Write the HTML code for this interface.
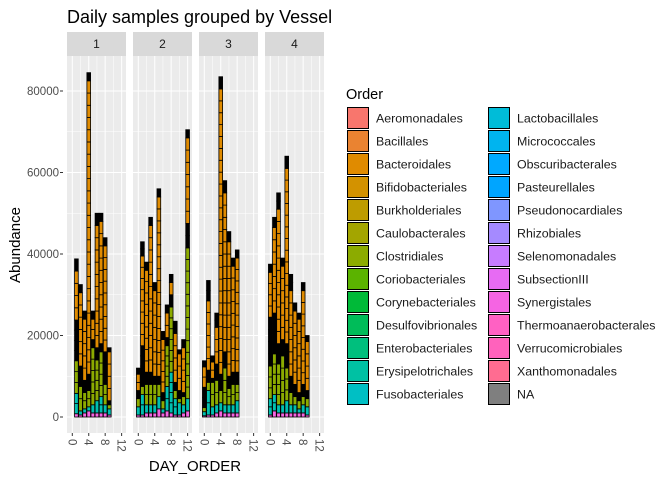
<!DOCTYPE html>
<html><head><meta charset="utf-8"><style>
body{margin:0;background:#fff;}
svg{display:block;font-family:"Liberation Sans",sans-serif;}
</style></head><body>
<svg id="chart" width="672" height="480" viewBox="0 0 672 480"></svg>
<script>
// data (thousands) layers per bar: pink, teal, green, dark, orange, darkTop
const panelLabels = ["1","2","3","4"];
const panelStartDay = [1,0,0,0];
const pinkVals = [
 [0.8,0.5,1,1.5,1,1,1,1,0.5],
 [0.5,0.5,1,1,1,2,1,1.5,1,0.5,0.5,1,1.5],
 [0.3,0.5,0.5,1,1.5,1,1,1,1],
 [0.5,1.5,1,1,1,1,1,1,1,0.5]];
const tealVals = [
 [5,1,1,1,2,3,4,2,1.5],
 [2,5,2,2,2,3,1,6,10,4,3,2,3],
 [1,6,2,2,2,2,2,2,3],
 [4,4,2,2,3,2,2,1,2,2]];
const greenVals = [
 [8,6,4,4,14,10,11,5,1],
 [2,2,5,5,5,3,2,10,16,2,1,2,37],
 [1,2,6,6,3,9,4,5,4],
 [8,10,10,12,8,3,2,2,2,2]];
const darkVals = [
 [10,5,3,4,2,3,2,8,1],
 [2,10,3,3,2,2,2,2,3,2,2,1,6],
 [5,3,1,4,4,4,3,3,3],
 [12,10,5,4,6,4,3,2,3,2]];
const orangeVals = [
 [12,18,15,72,5,30,30,26,12],
 [4,22,25,36,21,44,13,6,3,12,9,11,21],
 [5,17,4,9,70,39,33,26,28],
 [11,21,33,18,43,21,18,18,23,12]];
const topVals = [
 [3,2,2,2,2,3,2,2,1],
 [1.5,3.5,2,2,2,2,2,2,2,3,1,2,2],
 [1.5,5,1.5,3.5,3,3,2.5,2,2],
 [2,2.5,4,2,3,4,2,1.5,2,1.5]];
const yTicks = [0,20000,40000,60000,80000];
const xTicks = [0,4,8,12];
const legendNames = ["Aeromonadales","Bacillales","Bacteroidales","Bifidobacteriales","Burkholderiales","Caulobacterales","Clostridiales","Coriobacteriales","Corynebacteriales","Desulfovibrionales","Enterobacteriales","Erysipelotrichales","Fusobacteriales","Lactobacillales","Micrococcales","Obscuribacterales","Pasteurellales","Pseudonocardiales","Rhizobiales","Selenomonadales","SubsectionIII","Synergistales","Thermoanaerobacterales","Verrucomicrobiales","Xanthomonadales","NA"];
const legendColors = ["#F8766D","#EA8331","#E08B00","#D39200","#BE9C00","#A3A500","#8CAB00","#5BB300","#00BA38","#00BC59","#00BF7D","#00C1A3","#00BFC4","#00BCD8","#00B4EF","#00A9FF","#00A5FF","#7F96FF","#A58AFF","#C77CFF","#E76BF3","#F564E3","#FF61C3","#FF62BC","#FF6C91","#7F7F7F"];

const NS="http://www.w3.org/2000/svg";
const svg=document.getElementById('chart');
function el(t,a,p){const e=document.createElementNS(NS,t);for(const k in a)e.setAttribute(k,a[k]);(p||svg).appendChild(e);return e;}
const panelX=[67,133,199,265], PW=59, pTop=56, pBot=433;
const yS=v=>417-v*326/80000;
function xS(p,d){return panelX[p]+5.3+d*4.11;}

const title=el('text',{x:67,y:23,'font-size':18,fill:'#000'});title.textContent="Daily samples grouped by Vessel";


const yt=el('text',{x:0,y:0,'font-size':15,fill:'#000','text-anchor':'middle',transform:'translate(20,245) rotate(-90)'});yt.textContent="Abundance";


const xt=el('text',{x:195,y:471,'font-size':15,fill:'#000','text-anchor':'middle'});xt.textContent="DAY_ORDER";



yTicks.forEach(v=>{
  const t=el('text',{x:59,y:yS(v)+4,'font-size':11.5,fill:'#4d4d4d','text-anchor':'end'});t.textContent=v;
  
  
  el('line',{x1:60,x2:63,y1:yS(v),y2:yS(v),stroke:'#333','stroke-width':1});
});

const layerColors=["#F564E3","#00C0B0","#8CAB00","#000000","#E08B00","#000000"];
const layers=[pinkVals,tealVals,greenVals,darkVals,orangeVals,topVals];
const layerNames=["synergistales","fusobacteriales","clostridiales","na","bacteroidales","na-top"];

for(let p=0;p<4;p++){
  const g=el('g',{});
  
  
  el('rect',{x:panelX[p],y:pTop,width:PW,height:pBot-pTop,fill:'#EBEBEB'},g);
  el('rect',{x:panelX[p],y:32,width:PW,height:24,fill:'#D9D9D9'},g);
  const st=el('text',{x:panelX[p]+PW/2,y:48,'font-size':12,fill:'#1a1a1a','text-anchor':'middle'},g);st.textContent=panelLabels[p];
  
  
  for(let v=10000;v<=90000;v+=20000){if(yS(v)>pTop)el('line',{x1:panelX[p],x2:panelX[p]+PW,y1:yS(v),y2:yS(v),stroke:'#fff','stroke-width':0.5},g);}
  yTicks.forEach(v=>el('line',{x1:panelX[p],x2:panelX[p]+PW,y1:yS(v),y2:yS(v),stroke:'#fff','stroke-width':1},g));
  [2,6,10].forEach(d=>el('line',{x1:xS(p,d),x2:xS(p,d),y1:pTop,y2:pBot,stroke:'#fff','stroke-width':0.5},g));
  xTicks.forEach(d=>{
    el('line',{x1:xS(p,d),x2:xS(p,d),y1:pTop,y2:pBot,stroke:'#fff','stroke-width':1},g);
    el('line',{x1:xS(p,d),x2:xS(p,d),y1:pBot,y2:pBot+3,stroke:'#333','stroke-width':1},g);
    const t=el('text',{x:0,y:0,'font-size':11.5,fill:'#4d4d4d',transform:`translate(${xS(p,d)-4},439) rotate(90)`},g);t.textContent=d;
    
    
  });
  const n=pinkVals[p].length;
  for(let i=0;i<n;i++){
    const day=panelStartDay[p]+i;
    const bx=xS(p,day)-1.85;
    let cum=0;
    for(let L=0;L<layers.length;L++){
      const v=layers[L][p][i]*1000;
      const nseg=Math.max(1,Math.ceil(v/3000));
      for(let k=0;k<nseg;k++){
        const y0=yS(cum+v*k/nseg), y1=yS(cum+v*(k+1)/nseg);
        const r=el('rect',{x:bx,y:y1,width:3.7,height:Math.max(0.3,y0-y1),fill:layerColors[L],stroke:'#000','stroke-width':0.8},g);
        
        
      }
      cum+=v;
    }
  }
}

const lt=el('text',{x:346,y:99,'font-size':14.5,fill:'#000'});lt.textContent="Order";


legendNames.forEach((nm,i)=>{
  const col=Math.floor(i/13), row=i%13;
  const kx=col?488:347, ky=107+row*23;
  const g=el('g',{});
  
  
  el('rect',{x:kx+0.5,y:ky+0.5,width:21,height:21,fill:legendColors[i],stroke:'#000','stroke-width':1},g);
  const t=el('text',{x:kx+29,y:ky+15.5,'font-size':12.4,fill:'#1a1a1a'},g);t.textContent=nm;
});
</script>
</body></html>
